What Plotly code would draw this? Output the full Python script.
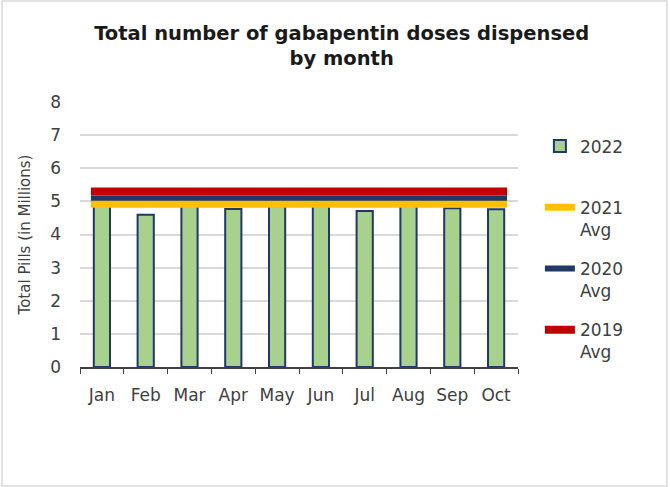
import plotly.graph_objects as go

months = ["Jan", "Feb", "Mar", "Apr", "May", "Jun", "Jul", "Aug", "Sep", "Oct"]
doses_2022 = [5.0, 4.6, 4.95, 4.77, 5.0, 4.95, 4.71, 4.9, 4.79, 4.76]
avg_2021 = 4.91
avg_2020 = 5.09
avg_2019 = 5.30
y_ticks = [0, 1, 2, 3, 4, 5, 6, 7, 8]

FONT = "DejaVu Sans"
TXT = "#404040"

fig = go.Figure()
fig.add_trace(go.Bar(
    x=months, y=doses_2022, name="2022<br>&nbsp;",
    marker=dict(color="#A9D18E", line=dict(color="#203864", width=2)),
    width=0.37, legendgroup="a", legendrank=1,
))

line_x = [-0.25, len(months) - 0.75]
for name, val, col, w, rank in [
    ("2019<br>Avg", avg_2019, "#C00000", 8, 4),
    ("2020<br>Avg", avg_2020, "#203864", 6, 3),
    ("2021<br>Avg", avg_2021, "#FFC000", 7, 2),
]:
    fig.add_trace(go.Scatter(
        x=line_x, y=[val, val], name=name, mode="lines",
        line=dict(color=col, width=w), xaxis="x2",
        legendgroup=name, legendrank=rank,
    ))

fig.update_layout(
    width=670, height=487,
    margin=dict(l=80, r=152, t=102, b=120),
    paper_bgcolor="white", plot_bgcolor="white",
    font=dict(family=FONT, color=TXT, size=16),
    title=dict(
        text="<b>Total number of gabapentin doses dispensed<br>by month</b>",
        x=0.51, xanchor="center", y=0.918, yanchor="middle",
        font=dict(family=FONT, size=19.5, color="#1a1a1a"),
    ),
    showlegend=True,
    legend=dict(
        x=1.05, xanchor="left", y=0.9, yanchor="top",
        font=dict(family=FONT, size=17, color=TXT),
        tracegroupgap=14, valign="top",
        bgcolor="rgba(0,0,0,0)",
    ),
    xaxis=dict(
        type="category", tickson="boundaries", ticks="outside", ticklen=5,
        tickcolor="#404040", showline=True, linecolor="#404040", linewidth=1.5,
        showgrid=False, tickangle=0, ticklabelstandoff=12,
        tickfont=dict(family=FONT, size=17, color=TXT),
        range=[-0.5, len(months) - 0.5],
    ),
    xaxis2=dict(
        overlaying="x", range=[-0.5, len(months) - 0.5], visible=False,
    ),
    yaxis=dict(
        range=[0, 8], tickvals=y_ticks, showgrid=True, gridcolor="#D9D9D9",
        gridwidth=1.5, zeroline=False, ticks="", ticklabelstandoff=18,
        tickfont=dict(family=FONT, size=17, color=TXT),
        title=dict(text="Total Pills (in Millions)", font=dict(family=FONT, size=15, color=TXT), standoff=15),
    ),
    shapes=[dict(type="rect", xref="paper", yref="paper", x0=-0.178, x1=1.34, y0=-0.449, y1=1.381,
                 line=dict(color="#D9D9D9", width=1.5), layer="below")],
)

fig.write_html("out.html", config={"displayModeBar": False},
               post_script="document.body.style.margin='0';")
